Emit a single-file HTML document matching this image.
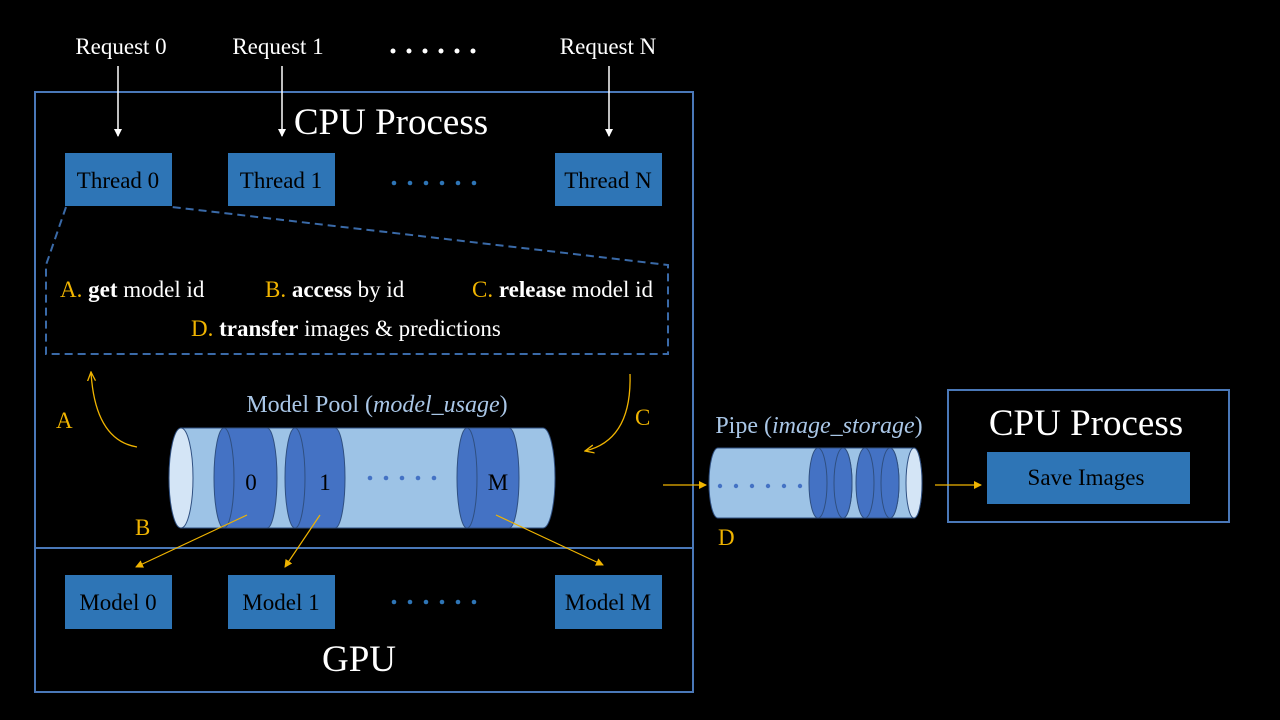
<!DOCTYPE html>
<html><head><meta charset="utf-8"><style>
html,body{margin:0;padding:0;background:#000;}
svg{display:block;font-family:"Liberation Serif",serif;}
</style></head><body>
<svg width="1280" height="720" viewBox="0 0 1280 720" xmlns="http://www.w3.org/2000/svg">
<defs>
<marker id="aw" markerWidth="8" markerHeight="8" refX="7" refY="4" orient="auto" markerUnits="userSpaceOnUse"><path d="M0,0 L8,4 L0,8 z" fill="#fff"/></marker>
<marker id="ay" markerWidth="10" markerHeight="10" refX="9" refY="5" orient="auto" markerUnits="userSpaceOnUse"><path d="M0,1 L9,5 L0,9" fill="none" stroke="#f0b400" stroke-width="1.3"/></marker>
<marker id="ay2" markerWidth="8" markerHeight="8" refX="7" refY="4" orient="auto" markerUnits="userSpaceOnUse"><path d="M0,0 L8,4 L0,8 z" fill="#f0b400"/></marker>
</defs>
<rect width="1280" height="720" fill="#000"/>
<rect x="35" y="92" width="658" height="600" fill="none" stroke="#4a78b8" stroke-width="2"/>
<line x1="35" y1="548" x2="693" y2="548" stroke="#4a78b8" stroke-width="2"/>
<rect x="948" y="390" width="281" height="132" fill="none" stroke="#4a78b8" stroke-width="2"/>

<g fill="#fff" font-size="23" text-anchor="middle">
<text x="121" y="54">Request 0</text>
<text x="278" y="54">Request 1</text>
<text x="608" y="54">Request N</text>
</g>
<g fill="#fff"><circle cx="393" cy="51" r="2.5"/><circle cx="409" cy="51" r="2.5"/><circle cx="425" cy="51" r="2.5"/><circle cx="441" cy="51" r="2.5"/><circle cx="457" cy="51" r="2.5"/><circle cx="473" cy="51" r="2.5"/></g>
<g stroke="#fff" stroke-width="1.5">
<line x1="118" y1="66" x2="118" y2="136" marker-end="url(#aw)"/>
<line x1="282" y1="66" x2="282" y2="136" marker-end="url(#aw)"/>
<line x1="609" y1="66" x2="609" y2="136" marker-end="url(#aw)"/>
</g>
<text x="391" y="134" fill="#fff" font-size="37" text-anchor="middle">CPU Process</text>

<g fill="#2e75b6">
<rect x="65" y="153" width="107" height="53"/>
<rect x="228" y="153" width="107" height="53"/>
<rect x="555" y="153" width="107" height="53"/>
<rect x="65" y="575" width="107" height="54"/>
<rect x="228" y="575" width="107" height="54"/>
<rect x="555" y="575" width="107" height="54"/>
<rect x="987" y="452" width="203" height="52"/>
</g>
<g fill="#000" font-size="23" text-anchor="middle">
<text x="118" y="188">Thread 0</text>
<text x="281" y="188">Thread 1</text>
<text x="608" y="188">Thread N</text>
<text x="118" y="610">Model 0</text>
<text x="281" y="610">Model 1</text>
<text x="608" y="610">Model M</text>
<text x="1086" y="485">Save Images</text>
</g>
<g fill="#2e75b6">
<circle cx="394" cy="183" r="2.3"/><circle cx="410" cy="183" r="2.3"/><circle cx="426" cy="183" r="2.3"/><circle cx="442" cy="183" r="2.3"/><circle cx="458" cy="183" r="2.3"/><circle cx="474" cy="183" r="2.3"/>
<circle cx="394" cy="602" r="2.3"/><circle cx="410" cy="602" r="2.3"/><circle cx="426" cy="602" r="2.3"/><circle cx="442" cy="602" r="2.3"/><circle cx="458" cy="602" r="2.3"/><circle cx="474" cy="602" r="2.3"/>
</g>

<path d="M66,207 L46,265 L46,354 L668,354 L668,265 L172,207" fill="none" stroke="#3a6aa8" stroke-width="2" stroke-dasharray="8,5"/>
<g font-size="23">
<text x="60" y="297" fill="#f0b400">A. <tspan fill="#fff" font-weight="bold">get</tspan><tspan fill="#fff"> model id</tspan></text>
<text x="265" y="297" fill="#f0b400">B. <tspan fill="#fff" font-weight="bold">access</tspan><tspan fill="#fff"> by id</tspan></text>
<text x="472" y="297" fill="#f0b400">C. <tspan fill="#fff" font-weight="bold">release</tspan><tspan fill="#fff"> model id</tspan></text>
<text x="191" y="336" fill="#f0b400">D. <tspan fill="#fff" font-weight="bold">transfer</tspan><tspan fill="#fff"> images &amp; predictions</tspan></text>
</g>

<path d="M137,447 Q95,440 91,372" fill="none" stroke="#f0b400" stroke-width="1.3" marker-end="url(#ay)"/>
<path d="M630,374 Q632,440 585,451" fill="none" stroke="#f0b400" stroke-width="1.3" marker-end="url(#ay)"/>
<g fill="#f0b400" font-size="23">
<text x="56" y="428">A</text>
<text x="635" y="425">C</text>
<text x="135" y="535">B</text>
<text x="718" y="545">D</text>
</g>

<text x="377" y="412" fill="#a9c6e6" font-size="24" text-anchor="middle">Model Pool (<tspan font-style="italic">model_usage</tspan>)</text>
<g stroke="#2f4f80" stroke-width="1">
<path d="M181,428 L543,428 A12,50 0 0 1 543,528 L181,528 Z" fill="#9dc3e6"/>
<path d="M224,428 L267,428 A10,50 0 0 1 267,528 L224,528 Z" fill="#4472c4"/>
<ellipse cx="224" cy="478" rx="10" ry="50" fill="#4472c4"/>
<path d="M295,428 L335,428 A10,50 0 0 1 335,528 L295,528 Z" fill="#4472c4"/>
<ellipse cx="295" cy="478" rx="10" ry="50" fill="#4472c4"/>
<path d="M467,428 L509,428 A10,50 0 0 1 509,528 L467,528 Z" fill="#4472c4"/>
<ellipse cx="467" cy="478" rx="10" ry="50" fill="#4472c4"/>
<ellipse cx="181" cy="478" rx="12" ry="50" fill="#d4e5f6"/>
</g>
<g fill="#000" font-size="23" text-anchor="middle">
<text x="251" y="490">0</text><text x="325" y="490">1</text><text x="498" y="490">M</text>
</g>
<g fill="#4472c4"><circle cx="370" cy="478" r="2.3"/><circle cx="386" cy="478" r="2.3"/><circle cx="402" cy="478" r="2.3"/><circle cx="418" cy="478" r="2.3"/><circle cx="434" cy="478" r="2.3"/></g>

<g stroke="#f0b400" stroke-width="1.2">
<line x1="247" y1="515" x2="136" y2="567" marker-end="url(#ay2)"/>
<line x1="320" y1="515" x2="285" y2="567" marker-end="url(#ay2)"/>
<line x1="496" y1="515" x2="603" y2="565" marker-end="url(#ay2)"/>
<line x1="663" y1="485" x2="706" y2="485" marker-end="url(#ay2)"/>
<line x1="935" y1="485" x2="981" y2="485" marker-end="url(#ay2)"/>
</g>

<text x="819" y="433" fill="#a9c6e6" font-size="24" text-anchor="middle">Pipe (<tspan font-style="italic">image_storage</tspan>)</text>
<g stroke="#2f4f80" stroke-width="1">
<path d="M718,448 L914,448 A8,35 0 0 1 914,518 L718,518 A9,35 0 0 1 718,448 Z" fill="#9dc3e6"/>
<path d="M818,448 L843,448 A9,35 0 0 1 843,518 L818,518 Z" fill="#4472c4"/>
<ellipse cx="818" cy="483" rx="9" ry="35" fill="#4472c4"/>
<ellipse cx="843" cy="483" rx="9" ry="35" fill="#4472c4"/>
<path d="M865,448 L890,448 A9,35 0 0 1 890,518 L865,518 Z" fill="#4472c4"/>
<ellipse cx="865" cy="483" rx="9" ry="35" fill="#4472c4"/>
<ellipse cx="890" cy="483" rx="9" ry="35" fill="#4472c4"/>
<ellipse cx="914" cy="483" rx="8" ry="35" fill="#d4e5f6"/>
</g>
<g fill="#4472c4"><circle cx="720" cy="486" r="2.2"/><circle cx="736" cy="486" r="2.2"/><circle cx="752" cy="486" r="2.2"/><circle cx="768" cy="486" r="2.2"/><circle cx="784" cy="486" r="2.2"/><circle cx="800" cy="486" r="2.2"/></g>

<text x="1086" y="435" fill="#fff" font-size="37" text-anchor="middle">CPU Process</text>
<text x="359" y="671" fill="#fff" font-size="37" text-anchor="middle">GPU</text>
</svg>
</body></html>
